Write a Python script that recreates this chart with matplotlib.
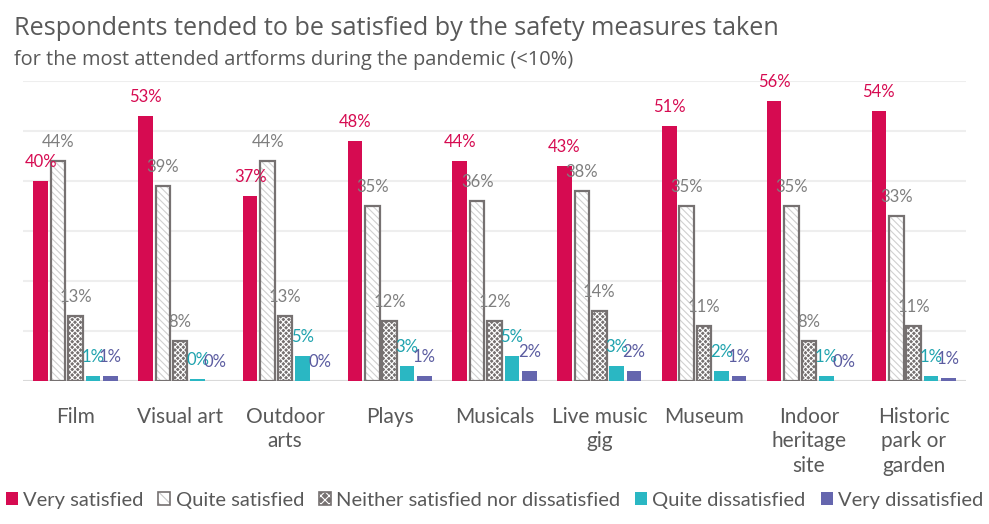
import numpy as np
import matplotlib.pyplot as plt
from matplotlib.patches import Patch

plt.rcParams['font.family'] = ['Lato', 'DejaVu Sans']
plt.rcParams['hatch.linewidth'] = 0.8

categories = ['Film', 'Visual art', 'Outdoor\narts', 'Plays', 'Musicals',
              'Live music\ngig', 'Museum', 'Indoor\nheritage\nsite',
              'Historic\npark or\ngarden']
series = ['Very satisfied', 'Quite satisfied',
          'Neither satisfied nor dissatisfied', 'Quite dissatisfied',
          'Very dissatisfied']
very_sat = [40, 53, 37, 48, 44, 43, 51, 56, 54]
quite_sat = [44, 39, 44, 35, 36, 38, 35, 35, 33]
neither = [13, 8, 13, 12, 12, 14, 11, 8, 11]
quite_dis = [1, 0.3, 5, 3, 5, 3, 2, 1, 1]
very_dis = [1, 0, 0, 1, 2, 2, 1, 0, 0.6]

grey = '#767171'
text_grey = '#595959'

fig = plt.figure(figsize=(9.89, 5.24), dpi=100)
ax = fig.add_axes([0.0233, 0.273, 0.9535, 0.572])

x = np.arange(len(categories))
slot = 0.166
bw = 0.139
offs = (np.arange(5) - 2) * slot

# very satisfied
ax.bar(x + offs[0], very_sat, bw, color='#D60B51', zorder=3)
# quite satisfied (diagonal hatch + outline)
ax.bar(x + offs[1], quite_sat, bw, facecolor='white', edgecolor='#D0D0D0',
       hatch='\\\\\\\\\\', linewidth=0, zorder=3)
ax.bar(x + offs[1], quite_sat, bw, fill=False, edgecolor=grey, linewidth=1.6, zorder=4)
# neither (fine check, dark)
ax.bar(x + offs[2], neither, bw, facecolor=grey, edgecolor='white',
       hatch='xxxxxx', linewidth=0, zorder=3)
ax.bar(x + offs[2], neither, bw, fill=False, edgecolor=grey, linewidth=1.6, zorder=4)
ax.bar(x + offs[3], quite_dis, bw, color='#2AB7C3', zorder=3)
ax.bar(x + offs[4], very_dis, bw, color='#6566AE', zorder=3)

label_cols = ['#D60B51', '#7F7F7F', '#7F7F7F', '#1FA3AE', '#5B5CA0']
all_vals = [very_sat, quite_sat, neither, quite_dis, very_dis]
for k, vals in enumerate(all_vals):
    for i, v in enumerate(vals):
        ax.annotate('%d%%' % round(v), (x[i] + offs[k], v), xytext=(0, 8),
                    textcoords='offset points', ha='center', va='bottom',
                    fontsize=12, color=label_cols[k], zorder=5)

ax.set_xlim(-0.5, len(categories) - 0.5)
ax.set_ylim(0, 60)
ax.set_yticks(np.arange(0, 61, 10))
ax.yaxis.grid(True, color='#EEEEEE', linewidth=1.5, zorder=0)
ax.axhline(0, color='#D9D9D9', linewidth=1.5, zorder=2)
ax.tick_params(left=False, labelleft=False, bottom=False)
for s in ax.spines.values():
    s.set_visible(False)
ax.set_xticks(x)
ax.set_xticklabels(categories, fontsize=15, color=text_grey, linespacing=1.3, va='top')
ax.tick_params(axis='x', pad=15)

fig.text(0.014, 0.945, 'Respondents tended to be satisfied by the safety measures taken',
         fontsize=18.2, color=text_grey, va='center', family='Open Sans')
fig.text(0.014, 0.886, 'for the most attended artforms during the pandemic (<10%)',
         fontsize=14.4, color=text_grey, va='center', family='Open Sans')

# legend
h1 = Patch(facecolor='#D60B51')
h2 = (Patch(facecolor='white', edgecolor='#C8C8C8', hatch='\\\\\\', linewidth=0),
      Patch(fill=False, edgecolor=grey, linewidth=1.2))
h3 = (Patch(facecolor=grey, edgecolor='white', hatch='xxxx', linewidth=0),
      Patch(fill=False, edgecolor=grey, linewidth=1.2))
h4 = Patch(facecolor='#2AB7C3')
h5 = Patch(facecolor='#6566AE')
leg = fig.legend([h1, h2, h3, h4, h5], series, loc='center', bbox_to_anchor=(0.5, 0.045),
                 ncol=5, frameon=False, fontsize=14.5, handlelength=0.6, handleheight=0.6,
                 handletextpad=0.25, columnspacing=0.75)
for t in leg.get_texts():
    t.set_color(text_grey)

fig.savefig('out.png', dpi=100)
